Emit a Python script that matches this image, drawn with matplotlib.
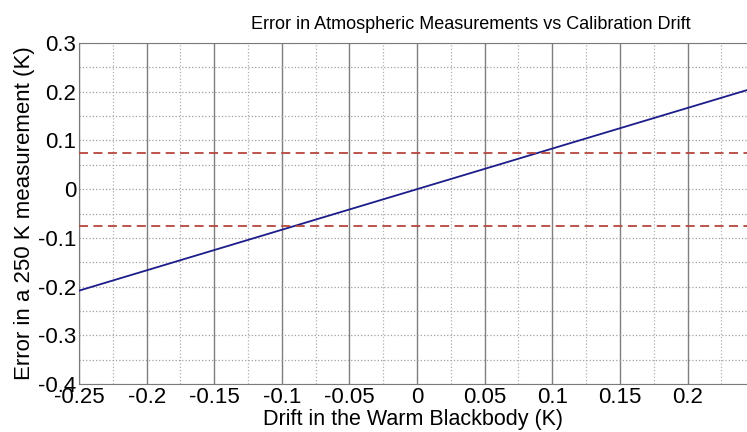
import numpy as np
import matplotlib.pyplot as plt
from matplotlib.ticker import MultipleLocator

# drift in warm blackbody (K) vs error in a 250 K measurement (K)
drift = [-0.25, 0.25]
err = [-0.2083, 0.2083]
limit = 0.075

xticks = [-0.25, -0.2, -0.15, -0.1, -0.05, 0, 0.05, 0.1, 0.15, 0.2]
xticklabels = ['-0.25', '-0.2', '-0.15', '-0.1', '-0.05', '0', '0.05', '0.1', '0.15', '0.2']
yticks = [-0.4, -0.3, -0.2, -0.1, 0, 0.1, 0.2, 0.3]
yticklabels = ['-0.4', '-0.3', '-0.2', '-0.1', '0', '0.1', '0.2', '0.3']

plt.rcParams['font.family'] = ['Liberation Sans', 'DejaVu Sans']

fig = plt.figure(figsize=(7.47, 4.32), dpi=100)
ax = fig.add_axes([0.1058, 0.111, 0.8942, 0.7895])

ax.plot(drift, err, color='#1c1c8a', lw=1.3, zorder=3)
ax.axhline(limit, color='#b5473d', ls=(0, (5, 3)), lw=1.3, zorder=3)
ax.axhline(-limit, color='#b5473d', ls=(0, (5, 3)), lw=1.3, zorder=3)

ax.set_xlim(-0.25, 0.244)
ax.set_ylim(-0.4, 0.3)
ax.set_xticks(xticks)
ax.set_xticklabels(xticklabels)
ax.set_yticks(yticks)
ax.set_yticklabels(yticklabels)
ax.xaxis.set_minor_locator(MultipleLocator(0.025))
ax.yaxis.set_minor_locator(MultipleLocator(0.05))

# matlab-ish grid: solid vertical majors, dotted everything else
ax.grid(which='major', axis='x', color='#7f7f7f', ls='-', lw=1.0)
ax.grid(which='minor', axis='x', color='#b0b0b0', ls=':', lw=0.9)
ax.grid(which='both', axis='y', color='#a0a0a0', ls=':', lw=0.9)
ax.set_axisbelow(True)

ax.tick_params(which='both', length=0, labelsize=16, pad=2)
for s in ['left', 'top', 'bottom']:
    ax.spines[s].set_color('#7a7a7a')
ax.spines['right'].set_visible(False)

ax.set_xlabel('Drift in the Warm Blackbody (K)', fontsize=15.5)
ax.xaxis.set_label_coords(0.5, -0.073)
ax.set_ylabel('Error in a 250 K measurement (K)', fontsize=16, labelpad=2)
ax.set_title('Error in Atmospheric Measurements vs Calibration Drift', fontsize=13,
             x=0.587, pad=10)

fig.savefig('out.png', dpi=100)
